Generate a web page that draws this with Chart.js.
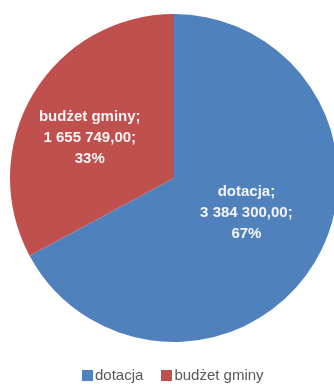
<!DOCTYPE html>
<html>
<head>
<meta charset="utf-8">
<script src="https://cdn.jsdelivr.net/npm/chart.js@4"></script>
<style>
  html, body { margin: 0; padding: 0; background: #fff; overflow: hidden; }
  #wrap { position: relative; width: 334px; height: 385px; overflow: hidden; }
  #chart-box { position: absolute; left: 0; top: 0; width: 340px; height: 385px; }
  #legend { position: absolute; left: 82px; top: 366px; white-space: nowrap;
    font: 15px "Liberation Sans", Arial, sans-serif; color: #595959; }
  #legend span.item { margin-right: 18px; }
  #legend span.box { display: inline-block; width: 11px; height: 11px; margin-right: 2px; vertical-align: -1px; }
</style>
</head>
<body>
<div id="wrap">
  <div id="chart-box"><canvas id="pie"></canvas></div>
  <div id="legend"></div>
</div>
<script>
const categories = ["dotacja", "budżet gminy"];
const amounts = [3384300.00, 1655749.00];
const amountLabels = ["3 384 300,00", "1 655 749,00"];
const percentLabels = ["67%", "33%"];
const colors = ["#4F81BD", "#C0504D"];

// label placement: fraction of radius, and a small turn (radians) off the slice middle
const labelRadius = [0.49, 0.57];
const labelTurn = -0.09;

document.addEventListener("DOMContentLoaded", () => {
  const legend = document.getElementById("legend");
  categories.forEach((c, i) => {
    const item = document.createElement("span");
    item.className = "item";
    const box = document.createElement("span");
    box.className = "box";
    box.style.background = colors[i];
    item.appendChild(box);
    item.appendChild(document.createTextNode(c));
    legend.appendChild(item);
  });

  const sliceLabels = {
    id: "sliceLabels",
    afterDatasetsDraw(chart) {
      const ctx = chart.ctx;
      const meta = chart.getDatasetMeta(0);
      ctx.save();
      ctx.fillStyle = "#f4f4f4";
      ctx.font = "bold 15px 'Liberation Sans', Arial, sans-serif";
      ctx.textAlign = "center";
      ctx.textBaseline = "middle";
      meta.data.forEach((arc, i) => {
        const p = arc.getProps(["x", "y", "startAngle", "endAngle", "outerRadius"], true);
        const mid = (p.startAngle + p.endAngle) / 2 + labelTurn;
        const r = p.outerRadius * labelRadius[i];
        const cx = p.x + Math.cos(mid) * r;
        const cy = p.y + Math.sin(mid) * r;
        const lines = [categories[i] + ";", amountLabels[i] + ";", percentLabels[i]];
        lines.forEach((t, k) => ctx.fillText(t, cx, cy + (k - 1) * 21));
      });
      ctx.restore();
    }
  };

  new Chart(document.getElementById("pie"), {
    type: "pie",
    data: {
      labels: categories,
      datasets: [{
        data: amounts,
        backgroundColor: colors,
        borderWidth: 0
      }]
    },
    options: {
      responsive: true,
      maintainAspectRatio: false,
      animation: false,
      layout: { padding: { top: 14, left: 10, right: 2, bottom: 43 } },
      plugins: {
        legend: { display: false },
        tooltip: { enabled: false }
      }
    },
    plugins: [sliceLabels]
  });
});
</script>
</body>
</html>
